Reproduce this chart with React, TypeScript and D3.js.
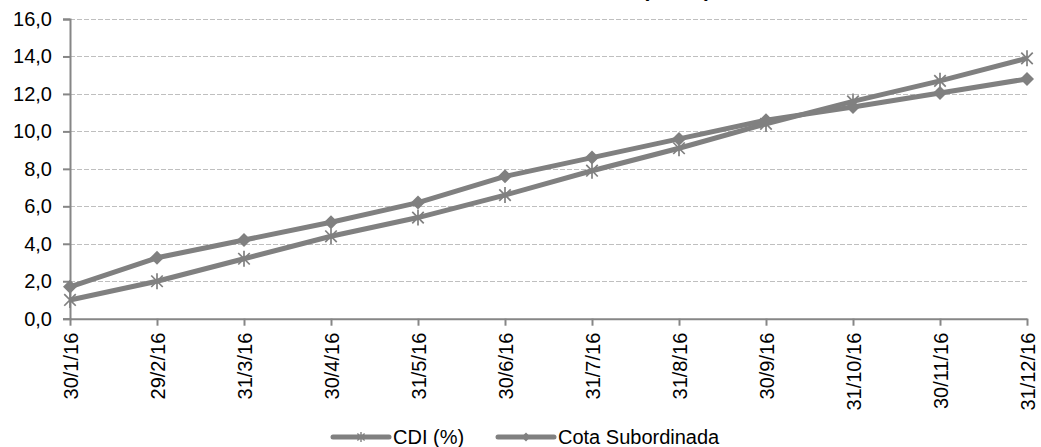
import * as React from "react";
import * as d3 from "d3";

const datas: string[] = ["30/1/16", "29/2/16", "31/3/16", "30/4/16", "31/5/16", "30/6/16",
    "31/7/16", "31/8/16", "30/9/16", "31/10/16", "30/11/16", "31/12/16"];
const cdi: number[] = [1.0, 2.0, 3.2, 4.4, 5.4, 6.6, 7.9, 9.1, 10.4, 11.6, 12.7, 13.9];
const cotaSub: number[] = [1.7, 3.25, 4.2, 5.15, 6.2, 7.6, 8.6, 9.6, 10.6, 11.3, 12.05, 12.8];
const yTicks: number[] = [0, 2, 4, 6, 8, 10, 12, 14, 16];
const serieNames: string[] = ["CDI (%)", "Cota Subordinada"];
const title: string = "Rentabilidade Acumulada (em %)";

const grey: string = "#808080";
const axisGrey: string = "#868686";
const gridGrey: string = "#bfbfbf";
const font: string = "'Liberation Sans', Arial, sans-serif";
const fontSize: number = 20;

type Selection = d3.Selection<any, any, any, any>; //tslint:disable-line

// asterisk marker: X plus vertical stroke
function starPath(r: number): string {
    const p = d3.path();
    const d: number = r * 0.72;
    p.moveTo(0, -r); p.lineTo(0, r);
    p.moveTo(-d, -d); p.lineTo(d, d);
    p.moveTo(-d, d); p.lineTo(d, -d);
    return p.toString();
}

function drawChart(svg: Selection): void {
    const width: number = 1041;
    const height: number = 447;
    const margin = { top: 19, right: 14, bottom: 129, left: 70 };

    svg.selectAll("*").remove();

    const x = d3.scalePoint<string>()
        .domain(datas)
        .range([margin.left, width - margin.right]);
    const y = d3.scaleLinear()
        .domain([0, 16])
        .range([height - margin.bottom + 0.7, margin.top]);

    // title (mostly cut off at the top, as in the source)
    svg.append("text")
        .attr("x", 711)
        .attr("y", -3)
        .attr("text-anchor", "end")
        .attr("font-family", font)
        .attr("font-size", 21)
        .attr("font-weight", "bold")
        .attr("fill", "#000")
        .text(title);

    // grid
    svg.append("g")
        .selectAll("line")
        .data(yTicks.filter((t: number) => t > 0))
        .enter().append("line")
        .attr("x1", margin.left)
        .attr("x2", width - margin.right)
        .attr("y1", (t: number) => Math.round(y(t)) + 0.5)
        .attr("y2", (t: number) => Math.round(y(t)) + 0.5)
        .attr("stroke", gridGrey)
        .attr("stroke-width", 1)
        .attr("stroke-dasharray", "5,2");

    // y axis
    const yAxis = d3.axisLeft(y)
        .tickValues(yTicks)
        .tickSize(7)
        .tickPadding(11)
        .tickFormat((v: d3.NumberValue) => (+v).toFixed(1).replace(".", ","));
    const yG: Selection = svg.append("g")
        .attr("transform", `translate(${margin.left},0)`)
        .call(yAxis);
    yG.select(".domain").attr("stroke", axisGrey).attr("stroke-width", 2);
    yG.selectAll(".tick line").attr("stroke", axisGrey).attr("stroke-width", 2);
    yG.selectAll(".tick text")
        .attr("font-family", font)
        .attr("font-size", fontSize)
        .attr("fill", "#000");

    // x axis
    const xAxis = d3.axisBottom(x)
        .tickSize(7)
        .tickSizeOuter(0);
    const xG: Selection = svg.append("g")
        .attr("transform", `translate(0,${y(0)})`)
        .call(xAxis);
    xG.select(".domain").attr("stroke", axisGrey).attr("stroke-width", 2);
    xG.selectAll(".tick line").attr("stroke", axisGrey).attr("stroke-width", 2);
    xG.selectAll(".tick text")
        .attr("font-family", font)
        .attr("font-size", fontSize)
        .attr("fill", "#000")
        .attr("text-anchor", "end")
        .attr("transform", "rotate(-90)")
        .attr("x", -14)
        .attr("y", 0)
        .attr("dy", "0.36em");

    const line = d3.line<number>()
        .x((_d: number, i: number) => x(datas[i]) as number)
        .y((d: number) => y(d));

    const plot: Selection = svg.append("g");

    // Cota Subordinada first, CDI on top
    plot.append("path")
        .datum(cotaSub)
        .attr("d", line)
        .attr("fill", "none")
        .attr("stroke", grey)
        .attr("stroke-width", 5)
        .attr("stroke-linejoin", "round");
    plot.selectAll(".diamond")
        .data(cotaSub).enter().append("path")
        .attr("class", "diamond")
        .attr("transform", (d: number, i: number) => `translate(${x(datas[i])},${y(d)})`)
        .attr("d", d3.symbol().type(d3.symbolDiamond2).size(125)())
        .attr("fill", grey);

    plot.append("path")
        .datum(cdi)
        .attr("d", line)
        .attr("fill", "none")
        .attr("stroke", grey)
        .attr("stroke-width", 5)
        .attr("stroke-linejoin", "round");
    plot.selectAll(".star")
        .data(cdi).enter().append("path")
        .attr("class", "star")
        .attr("transform", (d: number, i: number) => `translate(${x(datas[i])},${y(d)})`)
        .attr("d", starPath(8))
        .attr("fill", "none")
        .attr("stroke", grey)
        .attr("stroke-width", 1.7);

    // legend
    const legendY: number = 437;
    const legend: Selection = svg.append("g");
    const items = [
        { name: serieNames[0], x0: 333, marker: "star" },
        { name: serieNames[1], x0: 498, marker: "diamond" }
    ];
    items.forEach((it) => {
        const g: Selection = legend.append("g").attr("transform", `translate(${it.x0},${legendY})`);
        g.append("line")
            .attr("x1", 0).attr("x2", 56)
            .attr("y1", 0).attr("y2", 0)
            .attr("stroke", grey)
            .attr("stroke-width", 5)
            .attr("stroke-linecap", "round");
        if (it.marker === "star") {
            g.append("path")
                .attr("transform", "translate(28,0)")
                .attr("d", starPath(5))
                .attr("fill", "none")
                .attr("stroke", grey)
                .attr("stroke-width", 1.4);
        } else {
            g.append("path")
                .attr("transform", "translate(28,0)")
                .attr("d", d3.symbol().type(d3.symbolDiamond2).size(50)())
                .attr("fill", grey);
        }
        g.append("text")
            .attr("x", 60)
            .attr("y", 7)
            .attr("font-family", font)
            .attr("font-size", fontSize)
            .attr("fill", "#000")
            .text(it.name);
    });
}

export default function App(): JSX.Element {
    const ref = React.useRef<SVGSVGElement>(null);
    React.useEffect(() => {
        if (ref.current) {
            drawChart(d3.select(ref.current));
        }
    }, []);
    return <svg ref={ref} width={1041} height={447}
        style={{ position: "absolute", left: 0, top: 0, background: "#fff" }} />;
}
